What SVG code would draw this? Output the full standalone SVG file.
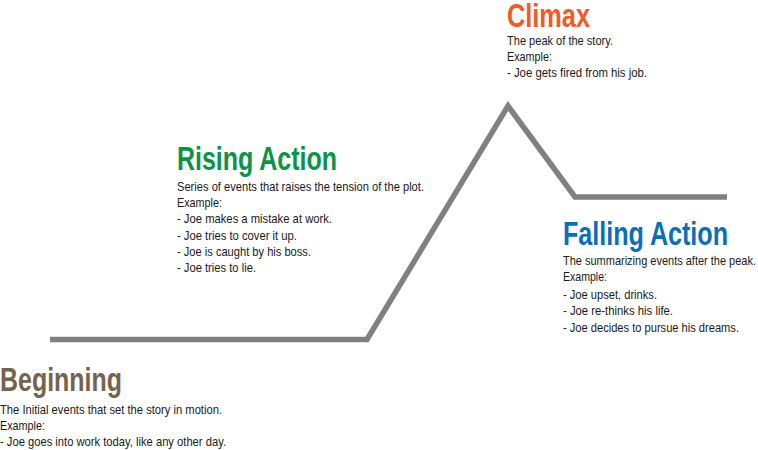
<svg xmlns="http://www.w3.org/2000/svg" width="758" height="450" viewBox="0 0 758 450">
<style>
.t{font-family:"Liberation Sans",Arial,sans-serif;font-weight:bold;font-size:33px}
.b{font-family:"Liberation Sans",Arial,sans-serif;font-size:13px;fill:#1a1a1a}
</style>
<rect width="758" height="450" fill="#ffffff"/>
<g id="connectors">
<polyline points="50,339.5 367,339.5 508,106 575,197 727,197" fill="none" stroke="#808080" stroke-width="5.5" stroke-linejoin="miter" stroke-miterlimit="10"/>
</g>
<g id="beginning">
<text class="t" x="0" y="391" fill="#76624f" textLength="122" lengthAdjust="spacingAndGlyphs">Beginning</text>
<text class="b" x="0" y="414" textLength="222" lengthAdjust="spacingAndGlyphs">The Initial events that set the story in motion.</text>
<text class="b" x="0" y="430" textLength="45" lengthAdjust="spacingAndGlyphs">Example:</text>
<text class="b" x="0" y="446" textLength="226" lengthAdjust="spacingAndGlyphs">- Joe goes into work today, like any other day.</text>
</g>
<g id="rising">
<text class="t" x="177" y="170" fill="#0b9347" textLength="160" lengthAdjust="spacingAndGlyphs">Rising Action</text>
<text class="b" x="177" y="191" textLength="247" lengthAdjust="spacingAndGlyphs">Series of events that raises the tension of the plot.</text>
<text class="b" x="177" y="207" textLength="45" lengthAdjust="spacingAndGlyphs">Example:</text>
<text class="b" x="177" y="223" textLength="155" lengthAdjust="spacingAndGlyphs">- Joe makes a mistake at work.</text>
<text class="b" x="177" y="240" textLength="120" lengthAdjust="spacingAndGlyphs">- Joe tries to cover it up.</text>
<text class="b" x="177" y="256" textLength="134" lengthAdjust="spacingAndGlyphs">- Joe is caught by his boss.</text>
<text class="b" x="177" y="272" textLength="79" lengthAdjust="spacingAndGlyphs">- Joe tries to lie.</text>
</g>
<g id="climax">
<text class="t" x="507" y="27" fill="#f15a29" textLength="83" lengthAdjust="spacingAndGlyphs">Climax</text>
<text class="b" x="507" y="45" textLength="106" lengthAdjust="spacingAndGlyphs">The peak of the story.</text>
<text class="b" x="507" y="61" textLength="45" lengthAdjust="spacingAndGlyphs">Example:</text>
<text class="b" x="507" y="77" textLength="140" lengthAdjust="spacingAndGlyphs">- Joe gets fired from his job.</text>
</g>
<g id="falling">
<text class="t" x="563" y="245" fill="#0b6fb8" textLength="165" lengthAdjust="spacingAndGlyphs">Falling Action</text>
<text class="b" x="563" y="265" textLength="193" lengthAdjust="spacingAndGlyphs">The summarizing events after the peak.</text>
<text class="b" x="563" y="281" textLength="44" lengthAdjust="spacingAndGlyphs">Example:</text>
<text class="b" x="563" y="299" textLength="94" lengthAdjust="spacingAndGlyphs">- Joe upset, drinks.</text>
<text class="b" x="563" y="315" textLength="110" lengthAdjust="spacingAndGlyphs">- Joe re-thinks his life.</text>
<text class="b" x="563" y="332" textLength="176" lengthAdjust="spacingAndGlyphs">- Joe decides to pursue his dreams.</text>
</g>
</svg>
